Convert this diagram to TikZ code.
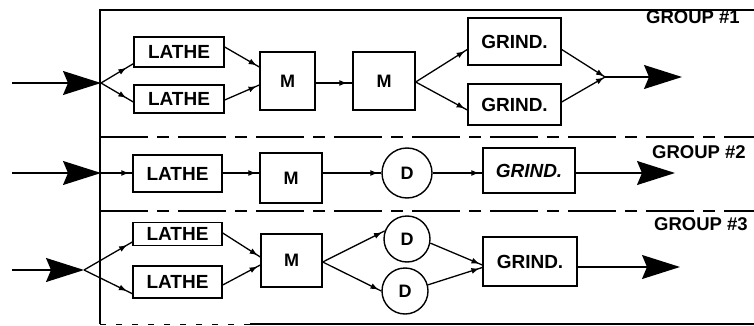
\documentclass[tikz,border=0pt]{standalone}
\usepackage{fontspec}
\setmainfont{Liberation Sans}
\usetikzlibrary{arrows.meta,decorations.markings}
\begin{document}
\begin{tikzpicture}[x=1pt,y=-1pt,
  box/.style={draw, line width=1.4pt, inner sep=0pt, font=\fontsize{19}{19}\selectfont\bfseries},
  mbox/.style={box, font=\fontsize{18}{18}\selectfont\bfseries},
  circ/.style={draw, circle, line width=1.4pt, inner sep=0pt, font=\fontsize{18}{18}\selectfont\bfseries},
  conn/.style={line width=1.3pt},
  sarrow/.style={conn, postaction={decorate}, decoration={markings, mark=at position -#1 with {\arrow{Latex[length=8pt,width=6pt]}}}},
  sarrow/.default=3pt,
  bigarrow/.style={line width=1.3pt, -{Stealth[length=38pt,width=24pt,inset=5pt]}},
  grp/.style={anchor=west, inner sep=0pt, font=\fontsize{18.5}{18.5}\selectfont\bfseries},
  frame/.style={line width=1.3pt},
  sep/.style={line width=1.3pt, dash pattern=on 48pt off 9pt on 12pt off 9pt}
]
\useasboundingbox (0,0) rectangle (754,326);

% frame and group separators
\draw[frame] (754,10) -- (100,10) -- (100,324);
\draw[line width=0.8pt, dash pattern=on 6pt off 10pt] (100,324) -- (250,324);
\draw[frame] (250,324) -- (754,324);
\draw[sep] (100,137) -- (754,137);
\draw[sep] (100,211) -- (754,211);

% group labels
\node[grp] (g1lab) at (646,17) {GROUP \#1};
\node[grp] (g2lab) at (652,152) {GROUP \#2};
\node[grp] (g3lab) at (654,224) {GROUP \#3};

% ---------- Group 1 ----------
\node[box, minimum width=90pt, minimum height=30pt] (L1a) at (179,52) {LATHE};
\node[box, minimum width=90pt, minimum height=28pt] (L1b) at (179,99) {LATHE};
\node[mbox, minimum width=55pt, minimum height=58pt] (M1a) at (287.5,81) {M};
\node[mbox, minimum width=62pt, minimum height=58pt] (M1b) at (384,81) {M};
\node[box, minimum width=93pt, minimum height=47pt] (G1a) at (514.5,41.5) {GRIND.};
\node[box, minimum width=93pt, minimum height=41pt] (G1b) at (514.5,104.5) {GRIND.};
\coordinate (in1) at (12,83);
\coordinate (b1) at (101,83);
\coordinate (m1) at (605,77);
\coordinate (out1) at (682,77);

\draw[bigarrow] (in1) -- (b1);
\draw[sarrow=8pt] (b1) -- ([yshift=4pt]L1a.south west);
\draw[sarrow=8pt] (b1) -- ([yshift=-3pt]L1b.west);
\draw[sarrow] ([yshift=5pt]L1a.east) -- ([yshift=14pt]M1a.west);
\draw[sarrow] ([yshift=-1pt]L1b.east) -- ([yshift=-4pt]M1a.west);
\draw[sarrow=5pt] ([yshift=-2pt]M1a.east) -- ([yshift=-2pt]M1b.west);
\draw[sarrow] ([yshift=-1pt]M1b.east) -- ([yshift=-8pt]G1a.west);
\draw[sarrow] ([yshift=-1pt]M1b.east) -- ([yshift=-5.5pt]G1b.west);
\draw[sarrow=1pt] ([yshift=-8pt]G1a.east) -- (m1);
\draw[sarrow=1pt] ([yshift=2.5pt]G1b.east) -- (m1);
\draw[bigarrow] (m1) -- (out1);

% ---------- Group 2 ----------
\node[box, minimum width=89pt, minimum height=37pt] (L2) at (177.5,173.5) {LATHE};
\node[mbox, minimum width=62pt, minimum height=50pt] (M2) at (291,178) {M};
\node[circ, minimum size=50pt] (D2) at (407,173) {D};
\node[box, minimum width=92pt, minimum height=45pt, font=\fontsize{19}{19}\selectfont\bfseries\itshape] (G2) at (529,170.5) {GRIND.};
\coordinate (in2) at (12,173);
\coordinate (b2) at (101,173);
\coordinate (out2) at (675,173);

\draw[bigarrow] (in2) -- (b2);
\draw[sarrow] (b2) -- (b2 -| L2.west);
\draw[sarrow] (L2.east |- b2) -- (b2 -| M2.west);
\draw[sarrow] (M2.east |- D2.west) -- (D2.west);
\draw[sarrow] (D2.east) -- (D2.east -| G2.west);
\draw[bigarrow] (G2.east |- out2) -- (out2);

% ---------- Group 3 ----------
\node[box, minimum width=89pt, minimum height=23pt] (L3a) at (177.5,234) {LATHE};
\node[box, minimum width=89pt, minimum height=32pt] (L3b) at (177.5,282) {LATHE};
\node[mbox, minimum width=61pt, minimum height=53pt] (M3) at (291.5,260.5) {M};
\node[circ, minimum size=46pt] (D3a) at (407,239) {D};
\node[circ, minimum size=46pt] (D3b) at (405,291) {D};
\node[box, minimum width=94pt, minimum height=49pt] (G3) at (530,261.5) {GRIND.};
\coordinate (in3) at (12,270);
\coordinate (b3) at (84,270);
\coordinate (out3) at (680,267);

\draw[bigarrow] (in3) -- (b3);
\draw[sarrow=6pt] (b3) -- ([yshift=-8pt]L3a.west);
\draw[sarrow=6pt] (b3) -- ([yshift=5pt]L3b.south west);
\draw[sarrow] ([yshift=1pt]L3a.east) -- ([yshift=3.5pt]M3.west);
\draw[sarrow] ([yshift=-3pt]L3b.east) -- ([yshift=-4.5pt]M3.west);
\draw[sarrow] ([yshift=-1.5pt]M3.east) -- (D3a.160);
\draw[sarrow] ([yshift=-1.5pt]M3.east) -- (D3b.west);
\draw[sarrow] (D3a.-10) -- ([yshift=-3.5pt]G3.west);
\draw[sarrow] (D3b.15) -- ([yshift=-6pt]G3.west);
\draw[bigarrow] (G3.east |- out3) -- (out3);
\end{tikzpicture}
\end{document}
